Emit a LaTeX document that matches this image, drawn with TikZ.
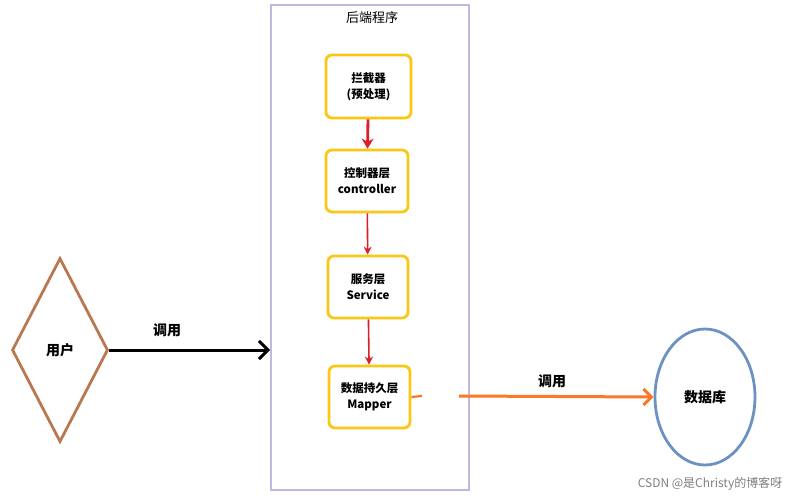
\documentclass[tikz,border=0pt]{standalone}
\usepackage{fontspec}
\setmainfont{Noto Sans CJK SC}
\usetikzlibrary{shapes.geometric,arrows.meta}
\definecolor{frame}{RGB}{190,185,225}
\definecolor{ybox}{RGB}{250,200,20}
\definecolor{brownc}{RGB}{185,120,80}
\definecolor{bluec}{RGB}{110,145,195}
\definecolor{orangec}{RGB}{250,120,40}
\definecolor{redc}{RGB}{220,30,40}
\begin{document}
\begin{tikzpicture}[x=1pt,y=-1pt,
  box/.style={draw=ybox,line width=2.8pt,rounded corners=6pt,fill=white,font=\bfseries\fontsize{11.5}{16}\selectfont,align=center,inner sep=0pt},
  red/.style={draw=redc,line width=1.6pt,-{Stealth[length=8pt,width=8pt]}},
  lbl/.style={font=\bfseries\fontsize{14}{16}\selectfont}]
\useasboundingbox[fill=white] (0,0) rectangle (812,500);
\node[draw=frame,line width=2.4pt,minimum width=198pt,minimum height=485pt,inner sep=0pt] (frame) at (370,247.5) {};
\node[font=\fontsize{13}{15}\selectfont] (title) at (372,18) {后端程序};
\node[box,minimum width=85pt,minimum height=63pt] (b1) at (368.5,86.5) {拦截器\\(预处理)};
\node[box,minimum width=82pt,minimum height=62pt] (b2) at (367,181) {控制器层\\controller};
\node[box,minimum width=80pt,minimum height=62pt] (b3) at (368,287) {服务层\\Service};
\node[box,minimum width=81pt,minimum height=62pt] (b4) at (369.5,397) {数据持久层\\Mapper};
\draw[red,line width=2.8pt,-{Stealth[length=10pt,width=12pt]}] (b1) -- (b2);
\draw[red] (b2) -- (b3);
\draw[red] (b3) -- (b4);
\node[draw=brownc,line width=2.8pt,diamond,minimum width=96pt,minimum height=184pt,inner sep=0pt,font=\bfseries\fontsize{14}{16}\selectfont] (user) at (60,350) {用户};
\coordinate (fl) at (270,350);
\draw[line width=3pt,-{Straight Barb[length=9pt,width=18pt,line width=3pt]}] (user.east) -- (fl);
\node[lbl] (l1) at (167,330) {调用};
\node[draw=bluec,line width=2.8pt,ellipse,minimum width=100pt,minimum height=136pt,font=\bfseries\fontsize{14}{16}\selectfont] (db) at (705,397) {数据库};
\coordinate (o1) at (422,396);
\coordinate (o2) at (459,396);
\draw[orangec,line width=2.2pt] (b4.east) -- (o1);
\draw[orangec,line width=3pt,-{Straight Barb[length=8pt,width=16pt,line width=3pt]}] (o2) -- (db.west);
\node[lbl] (l2) at (552,381) {调用};
\node[text=gray,font=\fontsize{12}{14}\selectfont] (wm) at (710,484) {CSDN @是Christy的博客呀};
\end{tikzpicture}
\end{document}
